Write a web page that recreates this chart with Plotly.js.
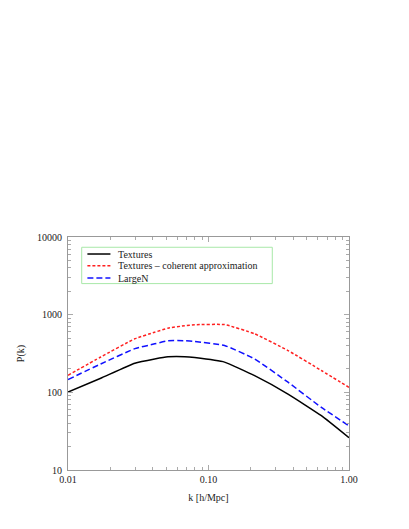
<!DOCTYPE html>
<html>
<head>
<meta charset="utf-8">
<script src="https://cdn.plot.ly/plotly-3.0.1.min.js"></script>
<style>html,body{margin:0;padding:0;background:#fff;}#chart{width:409px;height:529px;}</style>
</head>
<body>
<div id="chart"></div>
<script>
const k = [0.01, 0.0171, 0.0299, 0.0414, 0.0515, 0.0677, 0.0798, 0.130, 0.213, 0.368, 0.636, 1.0];
const textures = [101, 152, 237, 269, 287, 288, 280, 245, 164, 95, 50, 26];
const coherent = [166, 285, 489, 594, 670, 720, 741, 745, 567, 345, 191, 116];
const largeN = [146, 232, 365, 421, 462, 462, 451, 401, 269, 135, 64, 37];
const seriesNames = ["Textures", "Textures \u2013 coherent approximation", "LargeN"];
const xTickVals = [0.01, 0.1, 1];
const xTickText = ["0.01", "0.10", "1.00"];
const yTickVals = [10, 100, 1000, 10000];
const yTickText = ["10", "100", "1000", "10000"];

const minorX = [];
[0.01, 0.1].forEach(d => { for (let m = 2; m <= 9; m++) minorX.push(d * m); });
const minorY = [];
[10, 100, 1000].forEach(d => { for (let m = 2; m <= 9; m++) minorY.push(d * m); });

const fontFam = "'Liberation Serif', 'Times New Roman', serif";
const colors = ["#000000", "#ff2020", "#1010ff"];
const dashes = ["solid", "3px,2px", "6px,3px"];
const data = [textures, coherent, largeN].map((vals, i) => ({
  x: k, y: vals, name: seriesNames[i], mode: "lines", showlegend: false,
  line: {color: colors[i], width: 1.5, dash: dashes[i], shape: "spline", smoothing: 0.4}
}));

// custom compact legend
const legRows = [0.927, 0.877, 0.824];
const shapes = [{
  type: "rect", xref: "paper", yref: "paper", x0: 0.0488, x1: 0.727, y0: 0.800, y1: 0.956,
  line: {color: "#a8e8a8", width: 1}, fillcolor: "rgba(0,0,0,0)"
}];
const annotations = [];
seriesNames.forEach((name, i) => {
  shapes.push({type: "line", xref: "paper", yref: "paper", x0: 0.069, x1: 0.151, y0: legRows[i], y1: legRows[i],
    line: {color: colors[i], width: 1.5, dash: dashes[i]}});
  annotations.push({xref: "paper", yref: "paper", x: 0.171, y: legRows[i], xanchor: "left", yanchor: "middle",
    text: name, showarrow: false, font: {family: fontFam, size: 10, color: "#222222"}});
});

const axisCommon = {
  type: "log", showgrid: false, zeroline: false, showline: true, linecolor: "#999999", linewidth: 1,
  mirror: "ticks", ticks: "inside", ticklen: 5, tickcolor: "#aaaaaa", tickwidth: 1,
  tickfont: {family: fontFam, size: 10, color: "#222222"}, tickmode: "array"
};
const layout = {
  width: 409, height: 529,
  margin: {l: 68, r: 60, t: 237, b: 59},
  paper_bgcolor: "#ffffff", plot_bgcolor: "#ffffff",
  font: {family: fontFam, size: 10, color: "#222222"},
  showlegend: false,
  shapes: shapes, annotations: annotations,
  xaxis: Object.assign({}, axisCommon, {
    range: [-2, 0], tickvals: xTickVals, ticktext: xTickText,
    minor: {tickvals: minorX, ticks: "inside", ticklen: 3, tickcolor: "#aaaaaa"},
    title: {text: "k [h/Mpc]", font: {family: fontFam, size: 10, color: "#222222"}, standoff: 9}
  }),
  yaxis: Object.assign({}, axisCommon, {
    range: [1, 4], tickvals: yTickVals, ticktext: yTickText, ticklabelstandoff: 3,
    minor: {tickvals: minorY, ticks: "inside", ticklen: 3, tickcolor: "#aaaaaa"},
    title: {text: "P(k)", font: {family: fontFam, size: 10, color: "#222222"}, standoff: 10}
  })
};
Plotly.newPlot("chart", data, layout, {displayModeBar: false, staticPlot: true});
</script>
</body>
</html>
